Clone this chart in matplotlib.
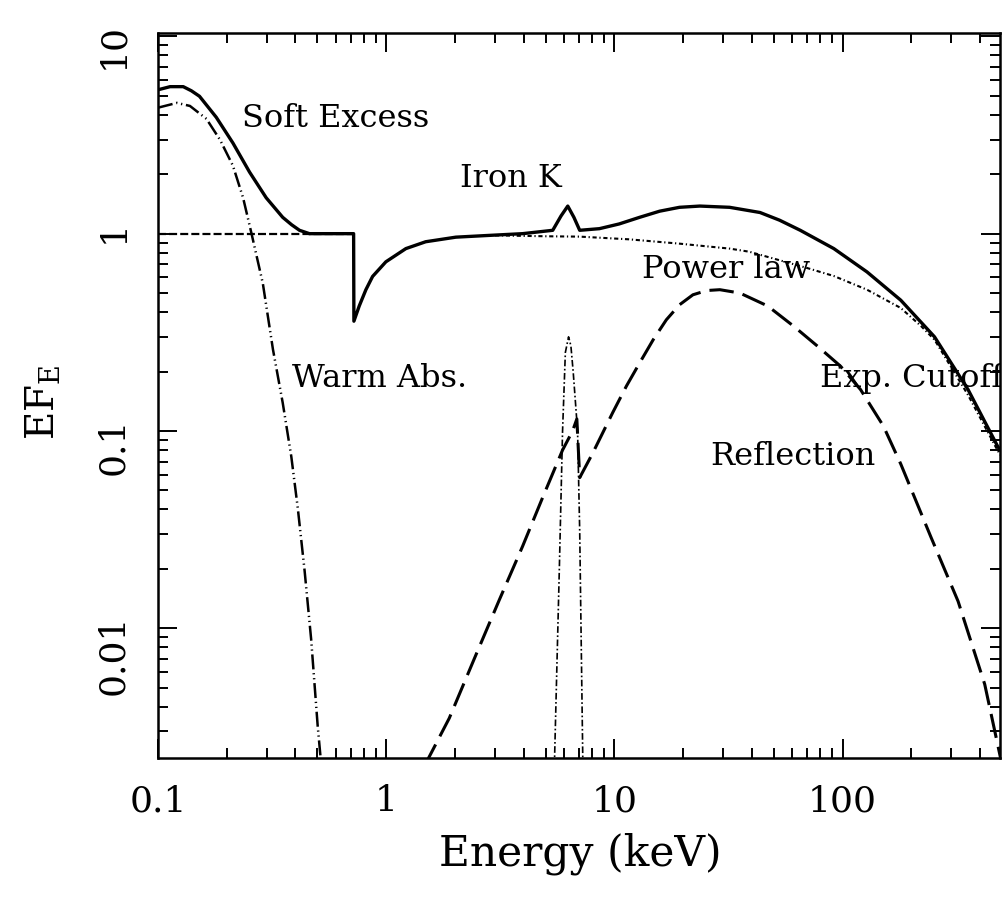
import matplotlib
matplotlib.use("Agg")
import matplotlib.pyplot as plt
from matplotlib.ticker import LogLocator, NullFormatter

plt.rcParams['font.family'] = ['DejaVu Serif']
plt.rcParams['mathtext.fontset'] = 'dejavuserif'

# total model (solid)
total_e = [0.1, 0.113, 0.129, 0.140, 0.152, 0.180, 0.213, 0.252, 0.298, 0.352, 0.385, 0.417, 0.461,
           0.55, 0.72, 0.722, 0.762, 0.815, 0.872, 0.997, 1.22, 1.49, 2.02, 2.83, 3.96, 5.37, 5.84,
           6.25, 6.65, 7.05, 8.6, 10.5, 12.9, 15.8, 19.3, 23.7, 32, 43.5, 53, 65.3, 91.6, 128, 180,
           253, 355, 480, 500]
total_f = [5.36, 5.56, 5.56, 5.3, 4.97, 3.89, 2.88, 2.05, 1.52, 1.21, 1.11, 1.04, 1.0,
           1.0, 1.0, 0.36, 0.43, 0.52, 0.607, 0.72, 0.84, 0.91, 0.96, 0.98, 1.0, 1.04, 1.23,
           1.38, 1.21, 1.04, 1.06, 1.12, 1.21, 1.30, 1.36, 1.38, 1.36, 1.28, 1.17, 1.04, 0.84, 0.64, 0.46,
           0.30, 0.162, 0.083, 0.078]

# soft excess (dash-dot)
soft_e = [0.1, 0.121, 0.138, 0.163, 0.187, 0.213, 0.236, 0.257, 0.288, 0.319, 0.352, 0.384,
          0.410, 0.439, 0.469, 0.501, 0.52]
soft_f = [4.35, 4.6, 4.44, 3.82, 2.99, 2.21, 1.52, 1.0, 0.56, 0.259, 0.139, 0.074,
          0.0405, 0.0196, 0.0088, 0.0032, 0.002]

# power law: soft part (dashed) and hard part with cutoff (dotted)
pl_soft_e = [0.1, 0.72]
pl_soft_f = [1.0, 1.0]
pl_e = [3.0, 5.0, 7.05, 11.6, 19.3, 32, 39, 69.9, 91.6, 128, 180, 221, 253, 355, 480, 500]
pl_f = [0.98, 0.97, 0.966, 0.936, 0.89, 0.84, 0.81, 0.67, 0.61, 0.52, 0.42, 0.34, 0.29, 0.152, 0.079, 0.074]

# reflection (long dashes)
refl_e = [1.47, 1.89, 2.47, 3.13, 3.96, 4.85, 5.93, 6.56, 6.85, 7.05, 8.03, 8.9, 9.84, 11.3, 12.9,
          14.8, 16.9, 19.3, 22.1, 25.4, 29, 35.5, 47, 61, 77.4, 98, 120, 151, 180, 244, 321, 420, 497]
refl_f = [0.002, 0.0035, 0.0073, 0.0139, 0.026, 0.046, 0.080, 0.10, 0.115, 0.058, 0.077, 0.098, 0.124,
          0.169, 0.221, 0.29, 0.366, 0.436, 0.49, 0.515, 0.52, 0.50, 0.43, 0.34, 0.27, 0.213, 0.162,
          0.106, 0.068, 0.029, 0.0137, 0.0052, 0.0021]

# iron K line (thin dash-dot)
fe_e = [5.46, 5.74, 5.93, 6.1, 6.3, 6.45, 6.6, 6.9, 7.05, 7.28]
fe_f = [0.002, 0.020, 0.10, 0.25, 0.30, 0.27, 0.20, 0.10, 0.031, 0.002]

xticks = [0.1, 1, 10, 100]
xticklabels = ["0.1", "1", "10", "100"]
yticks = [0.01, 0.1, 1, 10]
yticklabels = ["0.01", "0.1", "1", "10"]

fig = plt.figure(figsize=(10.02, 9.06), dpi=100)
ax = fig.add_axes([158 / 1002, 1 - 758 / 906, 842 / 1002, 725 / 906])

ax.plot(pl_soft_e, pl_soft_f, color="k", lw=1.6, ls=(0, (3.6, 1.4)))
ax.plot(pl_e, pl_f, color="k", lw=1.5, ls=(0, (2, 1.3, 0.6, 1.3)))
ax.plot(soft_e, soft_f, color="k", lw=1.8, ls=(0, (6, 1.5, 0.5, 1.5, 0.5, 1.5)))
ax.plot(fe_e, fe_f, color="k", lw=1.2, ls=(0, (4, 1.5, 1, 1.5)))
ax.plot(refl_e, refl_f, color="k", lw=2.2, ls=(0, (8, 3)))
ax.plot(total_e, total_f, color="k", lw=2.4)

ax.set_xscale("log")
ax.set_yscale("log")
ax.set_xlim(0.1, 490)
ax.set_ylim(0.0022, 10.4)

ax.set_xticks(xticks)
ax.set_xticklabels(xticklabels)
ax.set_yticks(yticks)
ax.set_yticklabels(yticklabels)
for axis in (ax.xaxis, ax.yaxis):
    axis.set_minor_locator(LogLocator(base=10, subs=range(2, 10), numticks=30))
    axis.set_minor_formatter(NullFormatter())

ax.tick_params(which="both", direction="in", top=True, right=True, width=1.4)
ax.tick_params(which="major", length=14, labelsize=26, pad=19)
ax.tick_params(which="minor", length=7)
ax.tick_params(axis="y", which="major", labelrotation=90, pad=20)
for s in ax.spines.values():
    s.set_linewidth(1.8)

ax.set_xlabel("Energy (keV)", fontsize=30.5)
ax.xaxis.set_label_coords(0.501, -0.103)
ax.set_ylabel(r"EF$_{\rm E}$", fontsize=28)
ax.yaxis.set_label_coords(-0.114, 0.49)

kw = dict(transform=ax.transAxes, fontsize=23, va="baseline", ha="left")
ax.text(0.0998, 0.870, "Soft Excess", **kw)
ax.text(0.359, 0.788, "Iron K", **kw)
ax.text(0.575, 0.662, "Power law", **kw)
ax.text(0.159, 0.512, "Warm Abs.", **kw)
ax.text(0.656, 0.404, "Reflection", **kw)
ax.text(0.786, 0.512, "Exp. Cutoff", clip_on=True, **kw)

fig.savefig("out.png", dpi=100)
